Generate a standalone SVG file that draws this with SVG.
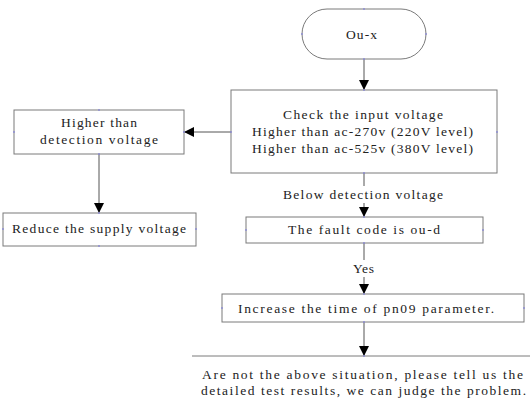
<svg xmlns="http://www.w3.org/2000/svg" width="530" height="418" viewBox="0 0 530 418">
<defs>
<style>
.box{fill:#fff;stroke:#7a7a7a;stroke-width:1}
.ln{stroke:#555;stroke-width:1;fill:none}
.t{font-family:"Liberation Serif","Noto Sans CJK SC",serif;font-size:13.5px;fill:#222}
.pt{fill:#8e8ed0}
</style>
<marker id="ah" viewBox="0 0 10 10" refX="10" refY="5" markerWidth="10" markerHeight="10" markerUnits="userSpaceOnUse" orient="auto">
<path d="M0,0 L10,5 L0,10 z" fill="#000"/>
</marker>
</defs>
<rect width="530" height="418" fill="#fff"/>
<g id="connectors">
<line class="ln" x1="364" y1="59" x2="364" y2="90" marker-end="url(#ah)"/>
<line class="ln" x1="231" y1="132" x2="184" y2="132" marker-end="url(#ah)"/>
<line class="ln" x1="99" y1="154" x2="99" y2="213" marker-end="url(#ah)"/>
<line class="ln" x1="364" y1="173" x2="364" y2="186"/>
<line class="ln" x1="364" y1="203" x2="364" y2="217" marker-end="url(#ah)"/>
<line class="ln" x1="364" y1="243" x2="364" y2="260"/>
<line class="ln" x1="364" y1="277" x2="364" y2="294" marker-end="url(#ah)"/>
<line class="ln" x1="364" y1="322" x2="364" y2="356" marker-end="url(#ah)"/>
<text class="t" x="283" y="199" textLength="160" lengthAdjust="spacing">Below detection voltage</text>
<text class="t" x="353" y="273" textLength="21" lengthAdjust="spacing">Yes</text>
</g>
<g id="start">
<rect class="box" x="302" y="9" width="124" height="50" rx="25"/>
<text class="t" x="346" y="39" textLength="31" lengthAdjust="spacing">Ou-x</text>
</g>
<g id="check">
<rect class="box" x="231" y="90" width="266" height="83"/>
<text class="t" x="283" y="119" textLength="160" lengthAdjust="spacing">Check the input voltage</text>
<text class="t" x="252" y="136" textLength="221" lengthAdjust="spacing">Higher than ac-270v (220V level)</text>
<text class="t" x="252" y="153" textLength="221" lengthAdjust="spacing">Higher than ac-525v (380V level)</text>
</g>
<g id="higher">
<rect class="box" x="14" y="110" width="170" height="44"/>
<text class="t" x="61" y="127" textLength="76" lengthAdjust="spacing">Higher than</text>
<text class="t" x="40" y="144" textLength="118" lengthAdjust="spacing">detection voltage</text>
</g>
<g id="reduce">
<rect class="box" x="3" y="213" width="193" height="33"/>
<text class="t" x="12" y="233" textLength="174" lengthAdjust="spacing">Reduce the supply voltage</text>
</g>
<g id="fault">
<rect class="box" x="246" y="217" width="237" height="26"/>
<text class="t" x="288" y="234" textLength="152" lengthAdjust="spacing">The fault code is ou-d</text>
</g>
<g id="increase">
<rect class="box" x="222" y="294" width="302" height="28"/>
<text class="t" x="238" y="313" textLength="256" lengthAdjust="spacing">Increase the time of pn09 parameter.</text>
</g>
<g id="other">
<line class="box" x1="192" y1="356" x2="530" y2="356"/>
<text class="t" x="202" y="379" textLength="321" lengthAdjust="spacing">Are not the above situation, please tell us the</text>
<text class="t" x="201" y="395" textLength="325" lengthAdjust="spacing">detailed test results, we can judge the problem.</text>
</g>
<g id="points">
<circle class="pt" cx="364" cy="9" r="1"/><circle class="pt" cx="302" cy="34" r="1"/><circle class="pt" cx="426" cy="34" r="1"/><circle class="pt" cx="364" cy="59" r="1"/>
<circle class="pt" cx="364" cy="90" r="1"/><circle class="pt" cx="231" cy="132" r="1"/><circle class="pt" cx="497" cy="132" r="1"/><circle class="pt" cx="364" cy="173" r="1"/>
<circle class="pt" cx="99" cy="110" r="1"/><circle class="pt" cx="14" cy="132" r="1"/><circle class="pt" cx="184" cy="132" r="1"/><circle class="pt" cx="99" cy="154" r="1"/>
<circle class="pt" cx="99" cy="213" r="1"/><circle class="pt" cx="3" cy="229" r="1"/><circle class="pt" cx="196" cy="229" r="1"/><circle class="pt" cx="99" cy="246" r="1"/>
<circle class="pt" cx="364" cy="217" r="1"/><circle class="pt" cx="246" cy="230" r="1"/><circle class="pt" cx="483" cy="230" r="1"/><circle class="pt" cx="364" cy="243" r="1"/>
<circle class="pt" cx="364" cy="294" r="1"/><circle class="pt" cx="222" cy="308" r="1"/><circle class="pt" cx="524" cy="308" r="1"/><circle class="pt" cx="364" cy="322" r="1"/>
<circle class="pt" cx="364" cy="356" r="1"/>
</g>
</svg>
